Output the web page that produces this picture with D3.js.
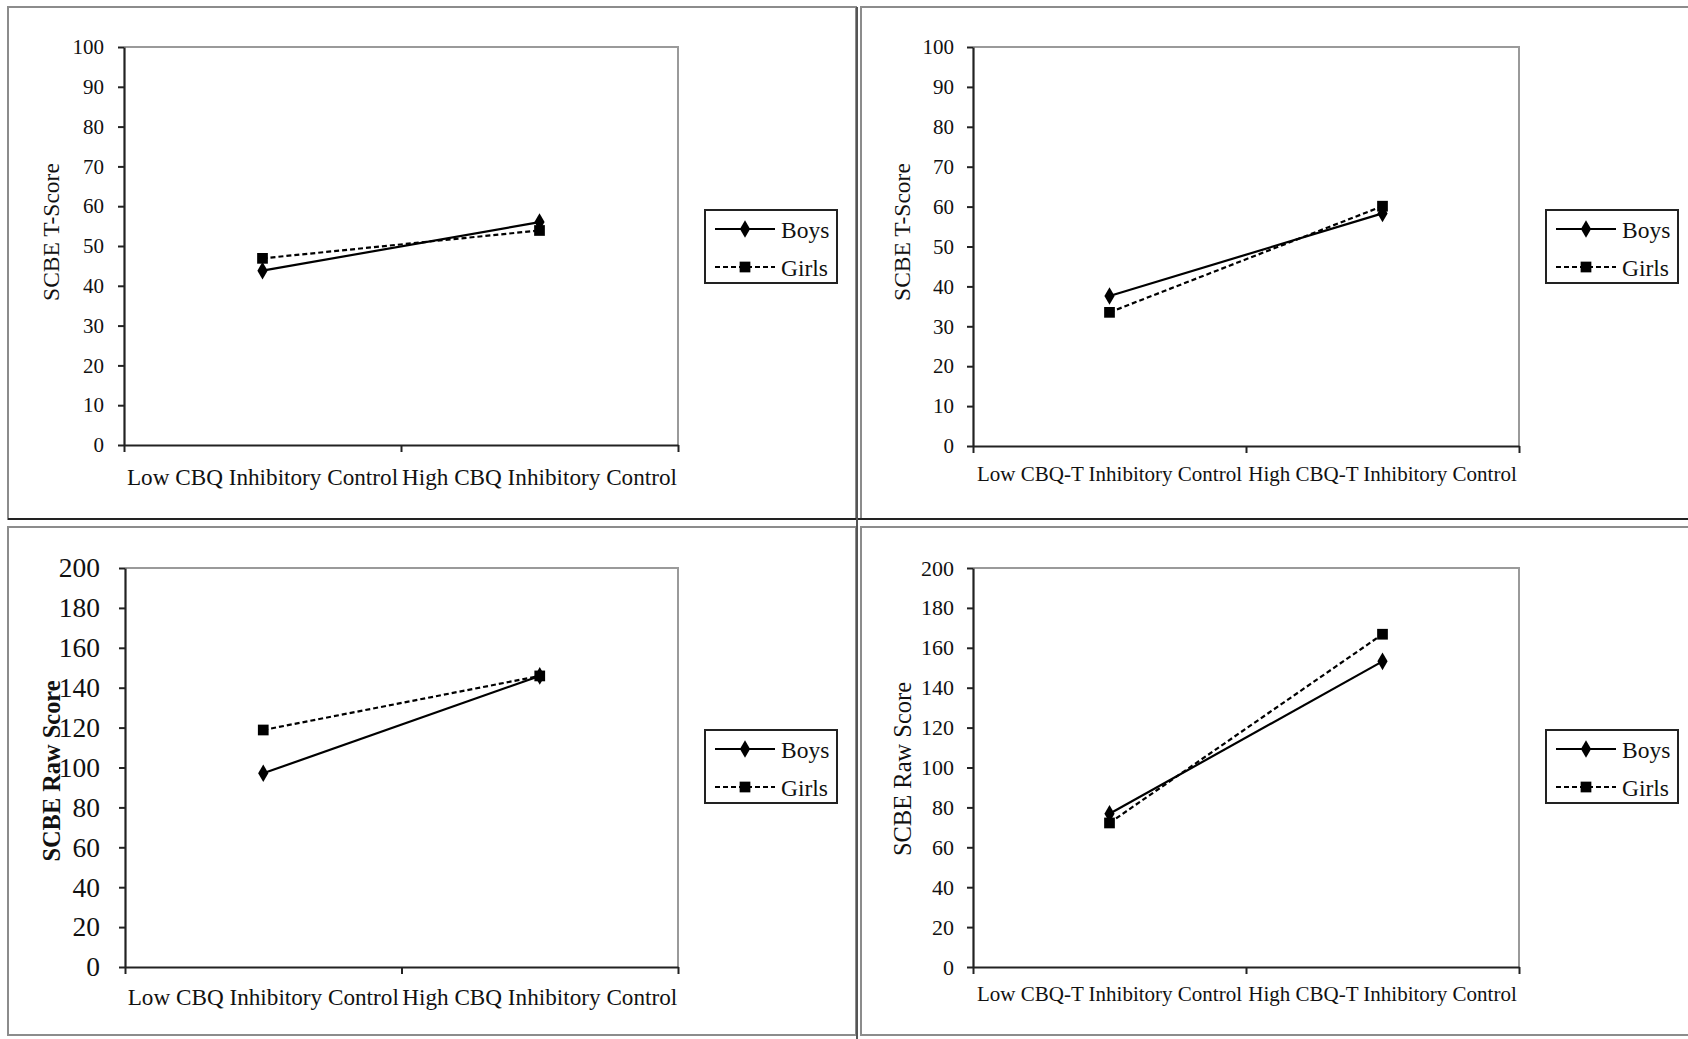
<!DOCTYPE html>
<html>
<head>
<meta charset="utf-8">
<script src="https://cdn.jsdelivr.net/npm/d3@7/dist/d3.min.js"></script>
<style>
  html, body { margin: 0; padding: 0; background: #fff; }
  svg { display: block; }
  text { font-family: "Liberation Serif", "Times New Roman", serif; fill: #111; }
</style>
</head>
<body>
<svg id="chart" width="1688" height="1039"></svg>
<script>
// Category labels for the two temperament measures
const cbqCategories = ["Low CBQ Inhibitory Control", "High CBQ Inhibitory Control"];
const cbqtCategories = ["Low CBQ-T Inhibitory Control", "High CBQ-T Inhibitory Control"];

// Series names
const seriesNames = ["Boys", "Girls"];

// Y tick values
const tScoreTicks = [0, 10, 20, 30, 40, 50, 60, 70, 80, 90, 100];
const rawScoreTicks = [0, 20, 40, 60, 80, 100, 120, 140, 160, 180, 200];

// SCBE T-scores by CBQ (parent) inhibitory control
const boysTScoreCbq = [43.8, 56.0];
const girlsTScoreCbq = [46.9, 53.9];

// SCBE T-scores by CBQ-T (teacher) inhibitory control
const boysTScoreCbqt = [37.6, 58.3];
const girlsTScoreCbqt = [33.5, 60.1];

// SCBE raw scores by CBQ inhibitory control
const boysRawCbq = [97.1, 145.9];
const girlsRawCbq = [118.8, 145.9];

// SCBE raw scores by CBQ-T inhibitory control
const boysRawCbqt = [76.8, 153.2];
const girlsRawCbqt = [72.2, 166.8];

const svg = d3.select("#chart");

// Panel frames
const frames = [
  {x: 8, y: 7, w: 848, h: 512},
  {x: 861, y: 7, w: 840, h: 512},
  {x: 8, y: 527, w: 848, h: 508},
  {x: 861, y: 527, w: 840, h: 508}
];
frames.forEach(f => {
  svg.append("rect").attr("x", f.x).attr("y", f.y).attr("width", f.w).attr("height", f.h)
    .attr("fill", "none").attr("stroke", "#8c8c8c").attr("stroke-width", 2);
});
// darker lower edge of the top row of frames
svg.append("line").attr("x1", 8).attr("x2", 1688).attr("y1", 519).attr("y2", 519)
  .attr("stroke", "#222").attr("stroke-width", 2);
svg.append("line").attr("x1", 857).attr("x2", 857).attr("y1", 7).attr("y2", 1039)
  .attr("stroke", "#555").attr("stroke-width", 2);

const panels = [
  {
    left: 124, right: 678, top: 47, bottom: 445,
    categories: cbqCategories, ticks: tScoreTicks, max: 100,
    boys: boysTScoreCbq, girls: girlsTScoreCbq,
    title: "SCBE T-Score", titleX: 51, titleY: 232, titleSize: 23.5, titleWeight: "normal",
    tickSize: 21, tickPad: 14, catSize: 23.2, catY: 485,
    legend: {x: 705, y: 210}
  },
  {
    left: 973, right: 1519, top: 47, bottom: 446,
    categories: cbqtCategories, ticks: tScoreTicks, max: 100,
    boys: boysTScoreCbqt, girls: girlsTScoreCbqt,
    title: "SCBE T-Score", titleX: 902, titleY: 232, titleSize: 23.5, titleWeight: "normal",
    tickSize: 21, tickPad: 13, catSize: 21, catY: 481,
    legend: {x: 1546, y: 210}
  },
  {
    left: 125, right: 678, top: 568, bottom: 967,
    categories: cbqCategories, ticks: rawScoreTicks, max: 200,
    boys: boysRawCbq, girls: girlsRawCbq,
    title: "SCBE Raw Score", titleX: 51, titleY: 771, titleSize: 24.4, titleWeight: "bold",
    tickSize: 27.5, tickPad: 19, catSize: 23.2, catY: 1005,
    legend: {x: 705, y: 730}
  },
  {
    left: 973, right: 1519, top: 568, bottom: 967,
    categories: cbqtCategories, ticks: rawScoreTicks, max: 200,
    boys: boysRawCbqt, girls: girlsRawCbqt,
    title: "SCBE Raw Score", titleX: 902, titleY: 769, titleSize: 24.5, titleWeight: "normal",
    tickSize: 22, tickPad: 13, catSize: 21, catY: 1001,
    legend: {x: 1546, y: 730}
  }
];

const diamond = d3.symbol().type(d3.symbolDiamond).size(90);
const square = d3.symbol().type(d3.symbolSquare).size(115);

panels.forEach(p => {
  const g = svg.append("g");
  const x = d3.scaleBand().domain(p.categories).range([p.left, p.right]).padding(0);
  const xEdge = d3.scaleLinear().domain([0, p.categories.length]).range([p.left, p.right]);
  const y = d3.scaleLinear().domain([0, p.max]).range([p.bottom, p.top]);

  // plot-area frame (top and right edges)
  g.append("path")
    .attr("d", `M${p.left},${p.top}H${p.right}V${p.bottom}`)
    .attr("fill", "none").attr("stroke", "#9a9a9a").attr("stroke-width", 2);

  // y axis
  const yAxis = d3.axisLeft(y).tickValues(p.ticks).tickSize(6).tickPadding(p.tickPad).tickSizeOuter(0);
  const ya = g.append("g").attr("transform", `translate(${p.left},0)`).call(yAxis);
  ya.select(".domain").attr("stroke", "#222").attr("stroke-width", 2.2);
  ya.selectAll(".tick line").attr("stroke", "#222").attr("stroke-width", 2);
  ya.selectAll(".tick text").attr("font-size", p.tickSize)
    .attr("font-family", "Liberation Serif").attr("fill", "#111");

  // x axis with ticks at category boundaries
  const xAxis = d3.axisBottom(xEdge).tickValues(d3.range(p.categories.length + 1))
    .tickSize(7).tickFormat("").tickSizeOuter(0);
  const xa = g.append("g").attr("transform", `translate(0,${p.bottom})`).call(xAxis);
  xa.select(".domain").attr("stroke", "#222").attr("stroke-width", 2.2);
  xa.selectAll(".tick line").attr("stroke", "#222").attr("stroke-width", 2);

  // category labels
  g.selectAll("text.cat").data(p.categories).join("text")
    .attr("class", "cat")
    .attr("x", d => x(d) + x.bandwidth() / 2)
    .attr("y", p.catY)
    .attr("text-anchor", "middle")
    .attr("font-size", p.catSize)
    .text(d => d);

  // y title
  g.append("text")
    .attr("transform", `translate(${p.titleX},${p.titleY}) rotate(-90)`)
    .attr("text-anchor", "middle")
    .attr("dy", "0.35em")
    .attr("font-size", p.titleSize)
    .attr("font-weight", p.titleWeight)
    .text(p.title);

  const cx = d => x(d) + x.bandwidth() / 2;
  const line = d3.line().x(d => cx(d.c)).y(d => y(d.v));
  const boysPts = p.categories.map((c, i) => ({c, v: p.boys[i]}));
  const girlsPts = p.categories.map((c, i) => ({c, v: p.girls[i]}));

  g.append("path").datum(boysPts).attr("d", line)
    .attr("fill", "none").attr("stroke", "#000").attr("stroke-width", 2.2);
  g.append("path").datum(girlsPts).attr("d", line)
    .attr("fill", "none").attr("stroke", "#000").attr("stroke-width", 2.2)
    .attr("stroke-dasharray", "5,3");

  g.selectAll("path.boys").data(boysPts).join("path").attr("class", "boys")
    .attr("transform", d => `translate(${cx(d.c)},${y(d.v)})`)
    .attr("d", diamond).attr("fill", "#000");
  g.selectAll("path.girls").data(girlsPts).join("path").attr("class", "girls")
    .attr("transform", d => `translate(${cx(d.c)},${y(d.v)})`)
    .attr("d", square).attr("fill", "#000");

  // legend
  const lg = g.append("g").attr("transform", `translate(${p.legend.x},${p.legend.y})`);
  lg.append("rect").attr("x", 0).attr("y", 0).attr("width", 132).attr("height", 73)
    .attr("fill", "#fff").attr("stroke", "#222").attr("stroke-width", 2);
  seriesNames.forEach((name, i) => {
    const ly = 19 + i * 38;
    lg.append("line").attr("x1", 10).attr("x2", 70).attr("y1", ly).attr("y2", ly)
      .attr("stroke", "#000").attr("stroke-width", 2.2)
      .attr("stroke-dasharray", i === 0 ? null : "5,3");
    lg.append("path").attr("transform", `translate(40,${ly})`)
      .attr("d", i === 0 ? diamond : square).attr("fill", "#000");
    lg.append("text").attr("x", 76).attr("y", ly).attr("dy", "0.4em")
      .attr("font-size", 23.5).text(name);
  });
});
</script>
</body>
</html>
